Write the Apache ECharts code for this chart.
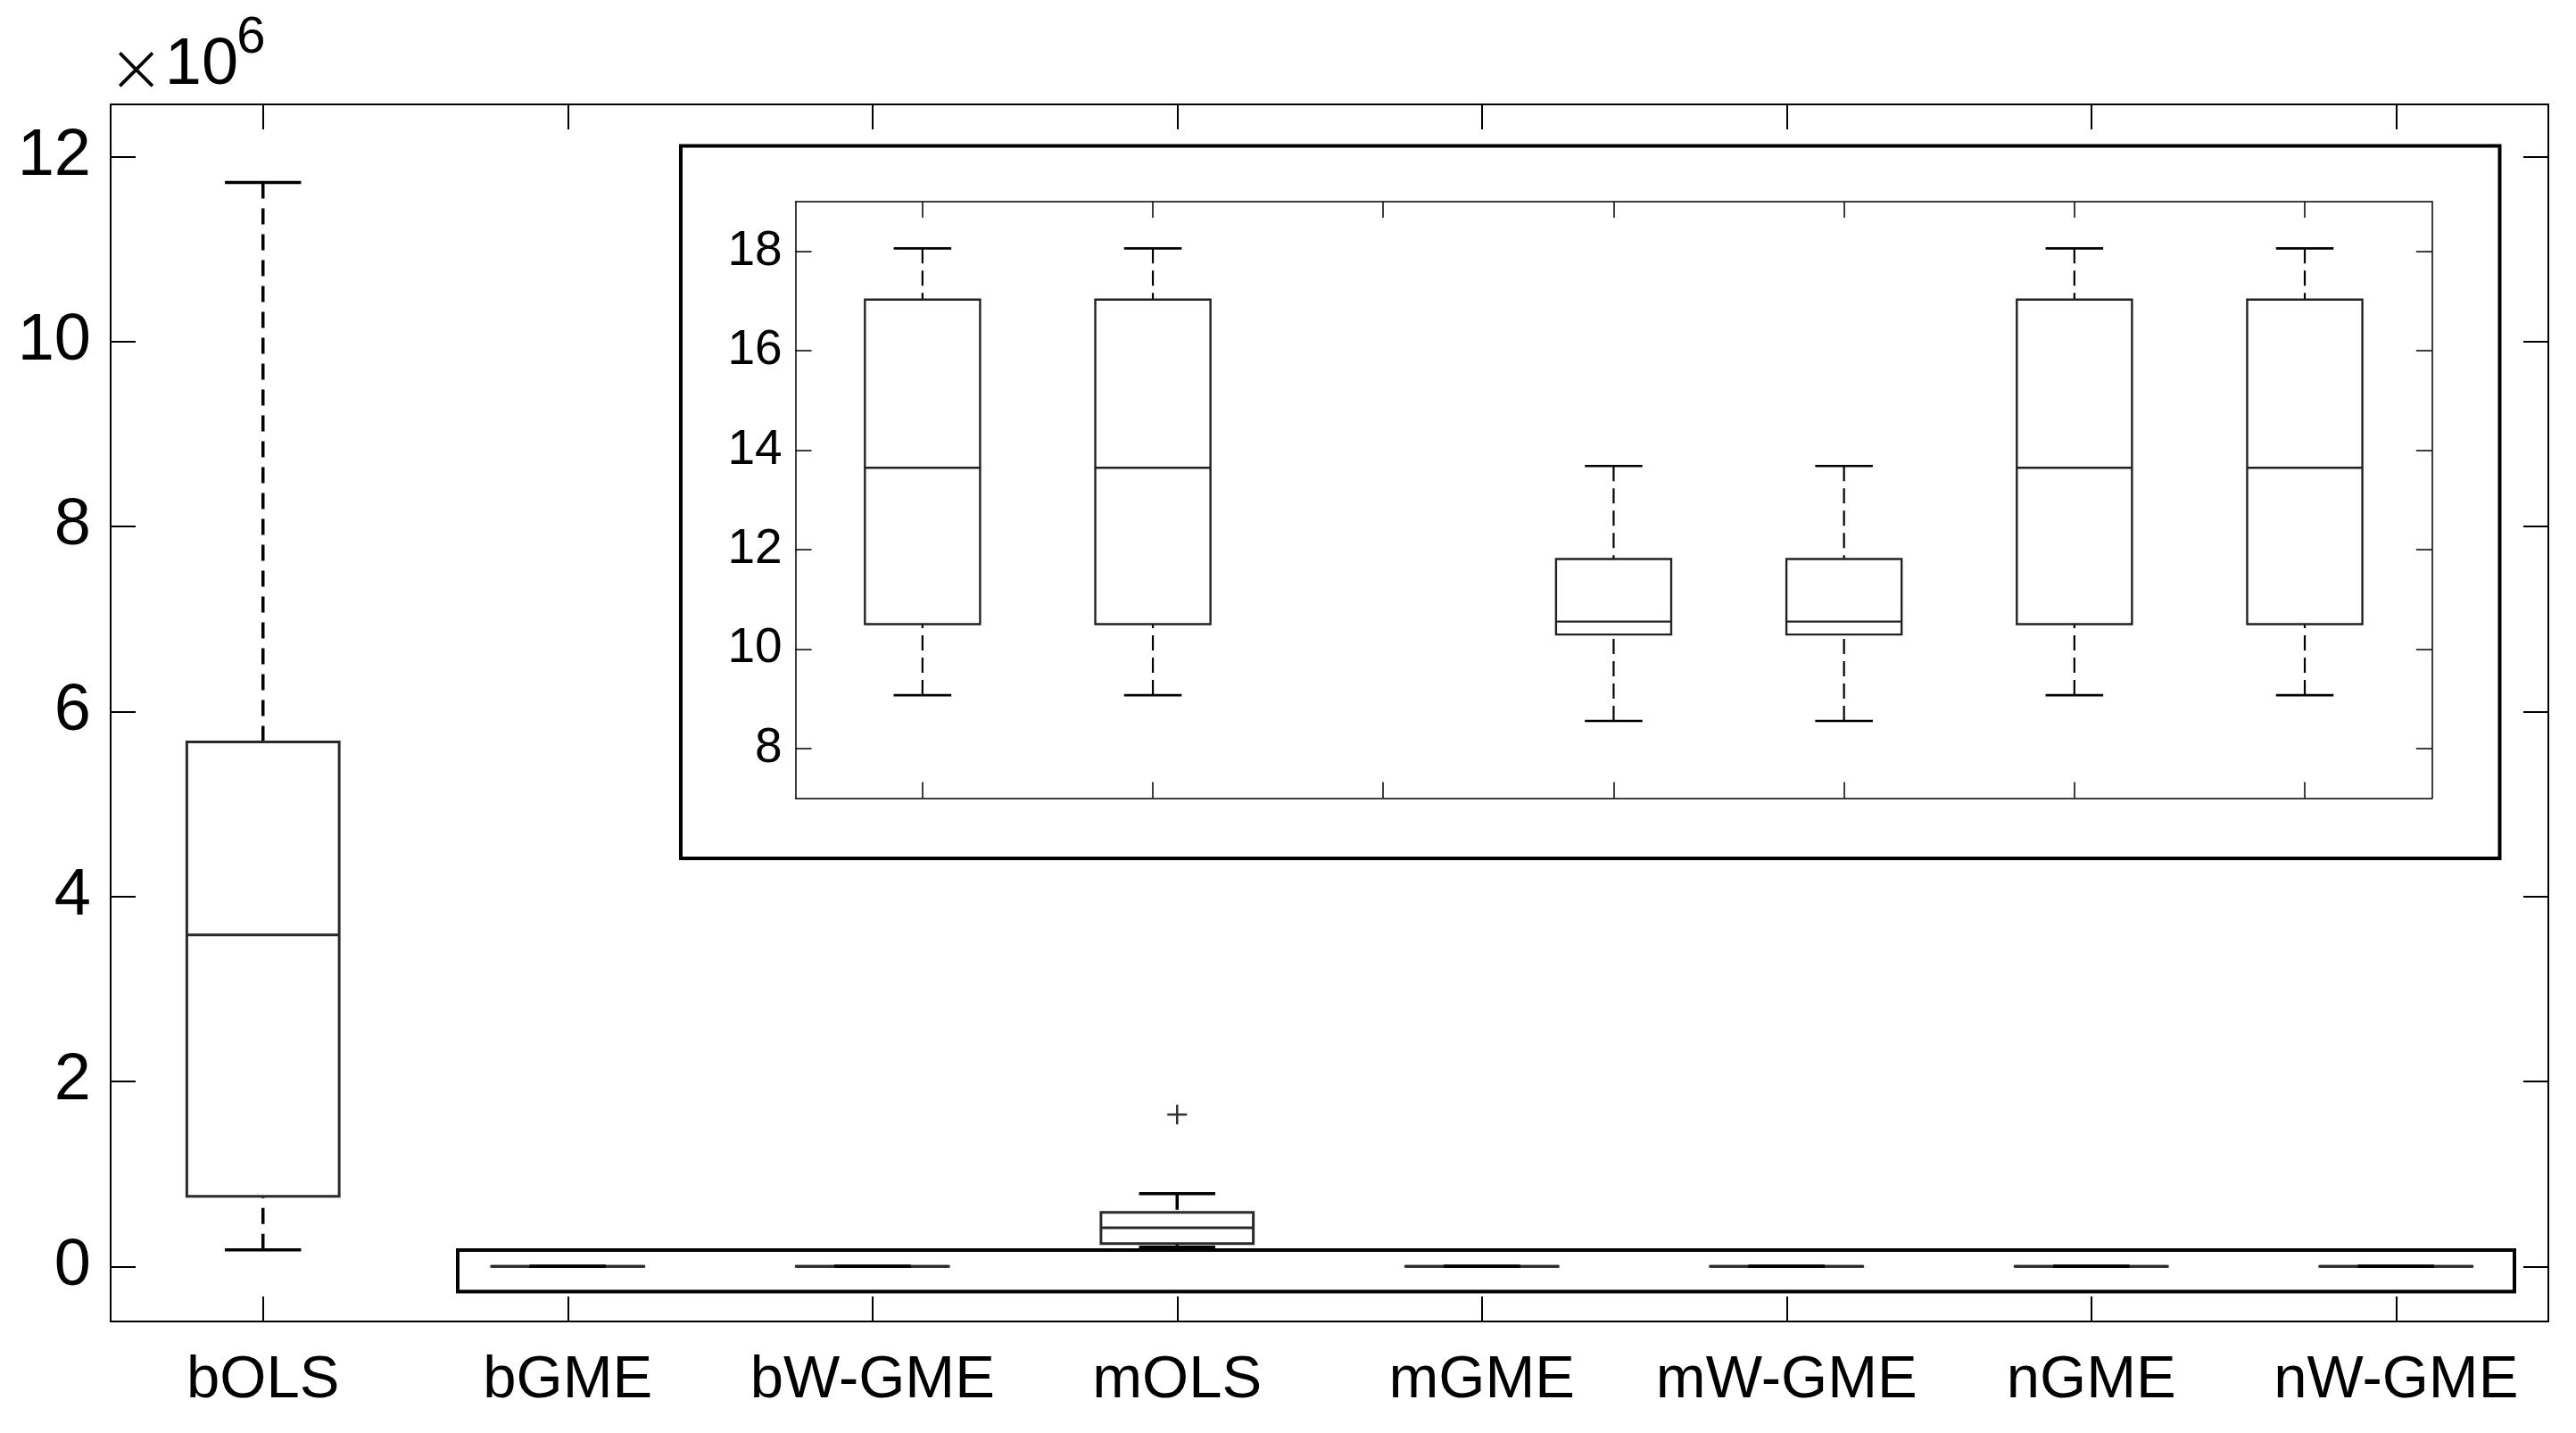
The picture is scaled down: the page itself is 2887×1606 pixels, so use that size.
<!DOCTYPE html>
<html><head><meta charset="utf-8">
<script src="https://cdn.jsdelivr.net/npm/echarts@6/dist/echarts.min.js"></script>
<style>html,body{margin:0;padding:0;background:#fff}#c{width:2887px;height:1606px}</style>
</head><body><div id="c"></div>
<script>
// ---------------- data ----------------
const categories = ['bOLS', 'bGME', 'bW-GME', 'mOLS', 'mGME', 'mW-GME', 'nGME', 'nW-GME'];
// five-number summaries (raw units)
const whiskerLow  = [179000,   9.07,   9.07,   208000, 8.55,  8.55,  9.07,   9.07];
const quartile1   = [758000,   10.50,  10.50,  247000, 10.29, 10.29, 10.50,  10.50];
const medians     = [3585000,  13.645, 13.645, 418000, 10.55, 10.55, 13.645, 13.645];
const quartile3   = [5670000,  17.03,  17.03,  584000, 11.81, 11.81, 17.03,  17.03];
const whiskerHigh = [11720000, 18.06,  18.06,  787000, 13.68, 13.68, 18.06,  18.06];
const outlierCats = ['mOLS'];
const outlierVals = [1642000];
const mainYTicks = [0, 2, 4, 6, 8, 10, 12];          // ×10^6
const insetYTicks = [8, 10, 12, 14, 16, 18];
const insetXTicks = [1, 2, 3, 4, 5, 6, 7];

// ---------------- build ----------------
const FONT = '"Liberation Sans", Arial, Helvetica, sans-serif';
const SCALE = 1e6;
const MAIN_MIN = -0.595 * SCALE, MAIN_MAX = 12.564 * SCALE;
const INSET_MIN = 7, INSET_MAX = 19;

const chart = echarts.init(document.getElementById('c'), null, { renderer: 'canvas' });

const mainData = categories.map((c, i) => [i, whiskerLow[i], quartile1[i], medians[i], quartile3[i], whiskerHigh[i]]);
const insetData = categories.map((c, i) => [i, whiskerLow[i], quartile1[i], medians[i], quartile3[i], whiskerHigh[i]])
  .filter(d => d[5] <= INSET_MAX && d[1] >= INSET_MIN);
const outlierData = outlierCats.map((c, k) => [categories.indexOf(c), outlierVals[k]]);

function boxRenderer(cfg) {
  return function (params, api) {
    const x = api.value(0);
    const lo = api.coord([x, api.value(1)]);
    const q1 = api.coord([x, api.value(2)]);
    const md = api.coord([x, api.value(3)]);
    const q3 = api.coord([x, api.value(4)]);
    const hi = api.coord([x, api.value(5)]);
    const band = api.size([1, 0])[0];
    const hb = band * 0.25;
    const hc = band * 0.125;
    const cx = lo[0];
    const boxStyle = { stroke: cfg.boxColor, lineWidth: cfg.boxWidth, fill: 'none' };
    const wStyle = { stroke: '#000', lineWidth: cfg.whiskerWidth, lineDash: cfg.dash, fill: 'none' };
    const cStyle = { stroke: '#000', lineWidth: cfg.capWidth, fill: 'none' };
    return {
      type: 'group', children: [
        { type: 'line', shape: { x1: cx, y1: hi[1], x2: cx, y2: q3[1] }, style: wStyle },
        { type: 'line', shape: { x1: cx, y1: lo[1], x2: cx, y2: q1[1] }, style: wStyle },
        { type: 'rect', shape: { x: cx - hb, y: q3[1], width: 2 * hb, height: q1[1] - q3[1] }, style: boxStyle },
        { type: 'line', shape: { x1: cx - hb, y1: md[1], x2: cx + hb, y2: md[1] }, style: { stroke: cfg.boxColor, lineWidth: cfg.boxWidth } },
        { type: 'line', shape: { x1: cx - hc, y1: hi[1], x2: cx + hc, y2: hi[1] }, style: cStyle },
        { type: 'line', shape: { x1: cx - hc, y1: lo[1], x2: cx + hc, y2: lo[1] }, style: cStyle }
      ]
    };
  };
}

function plusRenderer(params, api) {
  const p = api.coord([api.value(0), api.value(1)]);
  const h = 11;
  const st = { stroke: '#303030', lineWidth: 2.5 };
  return {
    type: 'group', children: [
      { type: 'line', shape: { x1: p[0] - h, y1: p[1], x2: p[0] + h, y2: p[1] }, style: st },
      { type: 'line', shape: { x1: p[0], y1: p[1] - h, x2: p[0], y2: p[1] + h }, style: st }
    ]
  };
}

const mainLine = { show: true, onZero: false, lineStyle: { color: '#000', width: 2 } };
const insetLine = { show: true, onZero: false, lineStyle: { color: '#000', width: 1.5 } };

const option = {
  animation: false,
  backgroundColor: '#fff',
  grid: [
    { left: 124, top: 117, width: 2732, height: 1364, containLabel: false, outerBoundsMode: 'none' },
    { left: 891.6, top: 226, width: 1834.2, height: 668.4, containLabel: false, outerBoundsMode: 'none' }
  ],
  xAxis: [
    {
      gridIndex: 0, type: 'category', data: categories, position: 'bottom', boundaryGap: true,
      axisLine: mainLine,
      axisTick: { show: true, inside: true, length: 28, alignWithLabel: true, lineStyle: { color: '#000', width: 2 } },
      axisLabel: { show: true, interval: 0, fontSize: 67, fontFamily: FONT, color: '#000', margin: 33 },
      splitLine: { show: false }
    },
    {
      gridIndex: 0, type: 'category', data: categories, position: 'top', boundaryGap: true,
      axisLine: mainLine,
      axisTick: { show: true, inside: true, length: 28, alignWithLabel: true, lineStyle: { color: '#000', width: 2 } },
      axisLabel: { show: false }, splitLine: { show: false }
    },
    {
      gridIndex: 1, type: 'value', min: 0.449, max: 7.553, position: 'bottom',
      axisLine: insetLine,
      axisTick: { show: true, inside: true, length: 18, customValues: insetXTicks, lineStyle: { color: '#000', width: 1.5 } },
      axisLabel: { show: false }, splitLine: { show: false }
    },
    {
      gridIndex: 1, type: 'value', min: 0.449, max: 7.553, position: 'top',
      axisLine: insetLine,
      axisTick: { show: true, inside: true, length: 18, customValues: insetXTicks, lineStyle: { color: '#000', width: 1.5 } },
      axisLabel: { show: false }, splitLine: { show: false }
    }
  ],
  yAxis: [
    {
      gridIndex: 0, type: 'value', min: MAIN_MIN, max: MAIN_MAX, position: 'left',
      axisLine: mainLine,
      axisTick: { show: true, inside: true, length: 28, customValues: mainYTicks.map(v => v * SCALE), lineStyle: { color: '#000', width: 2 } },
      axisLabel: { show: true, customValues: mainYTicks.map(v => v * SCALE), formatter: v => String(Math.round(v / SCALE)), fontSize: 74, fontFamily: FONT, color: '#000', margin: 22 },
      splitLine: { show: false }
    },
    {
      gridIndex: 0, type: 'value', min: MAIN_MIN, max: MAIN_MAX, position: 'right',
      axisLine: mainLine,
      axisTick: { show: true, inside: true, length: 28, customValues: mainYTicks.map(v => v * SCALE), lineStyle: { color: '#000', width: 2 } },
      axisLabel: { show: false }, splitLine: { show: false }
    },
    {
      gridIndex: 1, type: 'value', min: INSET_MIN, max: INSET_MAX, position: 'left',
      axisLine: insetLine,
      axisTick: { show: true, inside: true, length: 18, customValues: insetYTicks, lineStyle: { color: '#000', width: 1.5 } },
      axisLabel: { show: true, customValues: insetYTicks, fontSize: 55, fontFamily: FONT, color: '#000', margin: 15 },
      splitLine: { show: false }
    },
    {
      gridIndex: 1, type: 'value', min: INSET_MIN, max: INSET_MAX, position: 'right',
      axisLine: insetLine,
      axisTick: { show: true, inside: true, length: 18, customValues: insetYTicks, lineStyle: { color: '#000', width: 1.5 } },
      axisLabel: { show: false }, splitLine: { show: false }
    }
  ],
  series: [
    {
      type: 'custom', name: 'main', xAxisIndex: 0, yAxisIndex: 0,
      encode: { x: 0, y: [1, 2, 3, 4, 5] },
      renderItem: boxRenderer({ boxColor: '#2a2a2a', boxWidth: 3, whiskerWidth: 3.5, capWidth: 3.5, dash: [18, 11] }),
      data: mainData
    },
    {
      type: 'custom', name: 'outliers', xAxisIndex: 0, yAxisIndex: 0,
      encode: { x: 0, y: 1 }, renderItem: plusRenderer, data: outlierData
    },
    {
      type: 'custom', name: 'inset', xAxisIndex: 2, yAxisIndex: 2, clip: true,
      encode: { x: 0, y: [1, 2, 3, 4, 5] },
      renderItem: boxRenderer({ boxColor: '#222', boxWidth: 2.4, whiskerWidth: 2.2, capWidth: 2.6, dash: [17, 8] }),
      data: insetData
    }
  ],
  graphic: [
    { type: 'rect', shape: { x: 763, y: 163.5, width: 2038.5, height: 798.5 }, style: { fill: 'none', stroke: '#000', lineWidth: 4 }, z: 100 },
    { type: 'rect', shape: { x: 513, y: 1401, width: 2305, height: 46.5 }, style: { fill: 'none', stroke: '#000', lineWidth: 4 }, z: 100 },
    { type: 'text', x: 152.5, y: 82.5, style: { text: '×', fontSize: 76, fontFamily: '"DejaVu Sans", ' + FONT, fontWeight: 'lighter', fill: '#000', align: 'center', verticalAlign: 'middle' }, z: 100 },
    { type: 'text', x: 226, y: 73.5, style: { text: '10', fontSize: 74, fontFamily: FONT, fill: '#000', align: 'center', verticalAlign: 'middle' }, z: 100 },
    { type: 'text', x: 281.5, y: 42.5, style: { text: '6', fontSize: 58, fontFamily: FONT, fill: '#000', align: 'center', verticalAlign: 'middle' }, z: 100 }
  ]
};
chart.setOption(option);
</script>
</body></html>
